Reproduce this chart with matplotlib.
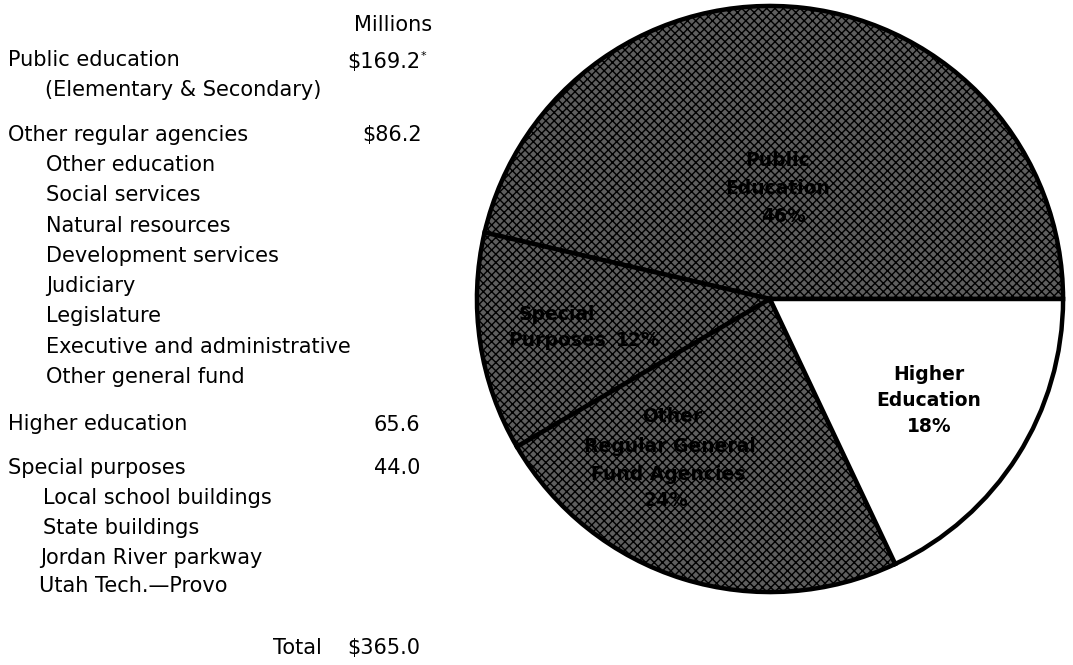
import matplotlib
matplotlib.use("Agg")
import matplotlib.pyplot as plt

plt.rcParams['font.family'] = ['DejaVu Sans']
plt.rcParams['hatch.color'] = 'black'
plt.rcParams['hatch.linewidth'] = 1.0

# budget table (millions)
categories = ["Public education", "Other regular agencies", "Higher education", "Special purposes"]
amounts = [169.2, 86.2, 65.6, 44.0]
amount_text = ["$169.2", "$86.2", "65.6", "44.0"]
public_sub = ["(Elementary & Secondary)"]
other_sub = ["Other education", "Social services", "Natural resources", "Development services",
             "Judiciary", "Legislature", "Executive and administrative", "Other general fund"]
special_sub = ["Local school buildings", "State buildings", "Jordan River parkway", "Utah Tech.\u2014Provo"]
total_text = "$365.0"

# pie slices, counter-clockwise from 3 o'clock
pie_names = ["Public Education", "Special Purposes", "Other Regular General Fund Agencies", "Higher Education"]
pie_values = [169.2, 44.0, 86.2, 65.6]
pie_pct = ["46%", "12%", "24%", "18%"]

W, H = 1073, 665
fig = plt.figure(figsize=(W / 100, H / 100), dpi=100)


def fx(x):
    return x / W


def fy(y):
    return 1 - y / H


def put(x, y, s, **kw):
    kw.setdefault('fontsize', 15)
    kw.setdefault('va', 'center')
    fig.text(fx(x), fy(y), s, **kw)


# ---- left table ----
put(432, 25, "Millions", ha='right')

put(8, 60, categories[0])
put(420, 62, amount_text[0], ha='right')
put(421, 56, "*", ha='left', fontsize=8)
put(45, 90, public_sub[0])

put(8, 135, categories[1])
put(422, 135, amount_text[1], ha='right')
for i, s in enumerate(other_sub):
    put(46, 165 + i * 30.3, s)

put(8, 424, categories[2])
put(420, 425, amount_text[2], ha='right')

put(8, 468, categories[3])
put(420, 468, amount_text[3], ha='right')
sub_y = [498, 528, 558, 586]
sub_x = [43, 43, 40, 39]
for s, x, y in zip(special_sub, sub_x, sub_y):
    put(x, y, s)

put(322, 648, "Total", ha='right')
put(420, 648, total_text, ha='right')

# ---- pie ----
cx, cy, r = 770, 299, 296
ax = fig.add_axes([fx(cx - r), fy(cy + r), 2 * r / W, 2 * r / H])
wedges, _ = ax.pie(pie_values, startangle=0, counterclock=True,
                   colors=['#5e5e5e', '#5e5e5e', '#5e5e5e', 'white'],
                   wedgeprops=dict(edgecolor='black', linewidth=3.2))
for w in wedges[:3]:
    w.set_hatch('xxxx')
ax.set_xlim(-1.01, 1.01)
ax.set_ylim(-1.01, 1.01)
ax.axis('off')

lab = dict(fontsize=13.5, fontweight='bold', ha='center')
put(778, 160, "Public", **lab)
put(778, 189, "Education", **lab)
put(784, 217, pie_pct[0], **lab)

put(557, 314, "Special", **lab)
put(557, 340, "Purposes", **lab)
put(638, 340, pie_pct[1], **lab)

put(672, 416, "Other", **lab)
put(670, 446, "Regular General", **lab)
put(668, 475, "Fund Agencies", **lab)
put(666, 501, pie_pct[2], **lab)

put(929, 374, "Higher", **lab)
put(929, 401, "Education", **lab)
put(929, 427, pie_pct[3], **lab)

fig.savefig("out.png", dpi=100)
